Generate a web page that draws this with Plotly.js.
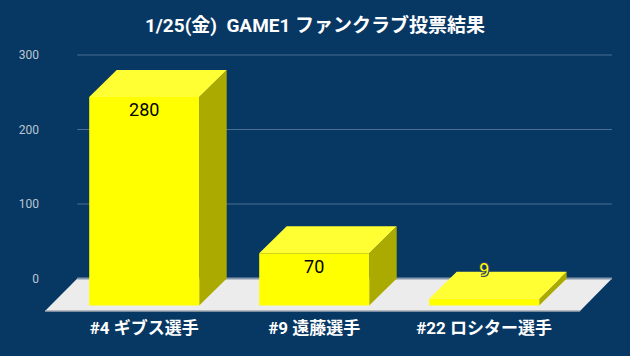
<!DOCTYPE html>
<html>
<head>
<meta charset="utf-8">
<script src="https://cdn.plot.ly/plotly-3.0.1.min.js"></script>
<style>html,body{margin:0;padding:0;background:#073763;}#chart{width:630px;height:356px;}</style>
</head>
<body>
<div id="chart"></div>
<script>
// ---- data ----
var categories = ["#4 ギブス選手", "#9 遠藤選手", "#22 ロシター選手"];
var votes = [280, 70, 9];
var tickValues = [0, 100, 200, 300];
var tickLabels = ["0", "100", "200", "300"];
var chartTitle = "1/25(金)  GAME1 ファンクラブ投票結果";

// ---- layout constants (3D projection) ----
var pxPerUnitY = 0.745;           // pixels per vote
var pxPerCat = 170;               // pixels per category step
var barW = 110 / pxPerCat;        // front face width in category units
var depthX = 27.5 / pxPerCat;     // depth offset, x
var depthY = 27 / pxPerUnitY;     // depth offset, y (vote units)
var floorFrontY = -5.5 / pxPerUnitY;
var floorBack = [-0.3935, 2.7518];
var floorFront = [-0.5835, 2.5636];

var FONT = "Roboto, 'Noto Sans CJK JP', sans-serif";
var traces = [];

// floor
traces.push({
  type: "scatter", mode: "lines", fill: "toself", fillcolor: "#ececec",
  line: {width: 0, color: "#ececec"}, hoverinfo: "skip",
  x: [floorFront[0], floorBack[0], floorBack[1], floorFront[1], floorFront[0]],
  y: [floorFrontY, depthY, depthY, floorFrontY, floorFrontY]
});
// floor front edge
traces.push({
  type: "scatter", mode: "lines", hoverinfo: "skip",
  line: {width: 1.5, color: "#a3aab2"},
  x: [floorFront[0], floorFront[1]], y: [floorFrontY, floorFrontY]
});
// gridlines (back plane)
var gx = [], gy = [];
tickValues.forEach(function (t) {
  if (t === 0) return;
  gx.push(floorBack[0], floorBack[1], null);
  gy.push(t + depthY, t + depthY, null);
});
traces.push({
  type: "scatter", mode: "lines", hoverinfo: "skip",
  line: {width: 1, color: "#4d6e92"}, x: gx, y: gy
});
// floor back edge (zero line)
traces.push({
  type: "scatter", mode: "lines", hoverinfo: "skip",
  line: {width: 2, color: "#8799ad"},
  x: [floorBack[0], floorBack[1]], y: [depthY, depthY]
});

// bars
var fx = [], fy = [], tx = [], ty = [], sx = [], sy = [];
votes.forEach(function (v, i) {
  var l = i - barW / 2, r = i + barW / 2;
  fx.push(l, r, r, l, l, null); fy.push(0, 0, v, v, 0, null);
  tx.push(l, l + depthX, r + depthX, r, l, null);
  ty.push(v, v + depthY, v + depthY, v, v, null);
  sx.push(r, r + depthX, r + depthX, r, r, null);
  sy.push(0, depthY, v + depthY, v, 0, null);
});
[[sx, sy, "#aaaa00"], [tx, ty, "#ffff33"], [fx, fy, "#ffff00"]].forEach(function (f) {
  traces.push({
    type: "scatter", mode: "lines", fill: "toself", fillcolor: f[2],
    line: {width: 0, color: f[2]}, hoverinfo: "skip", x: f[0], y: f[1]
  });
});

// value labels
var inX = [], inY = [], inT = [], outX = [], outY = [], outT = [];
votes.forEach(function (v, i) {
  if (v * pxPerUnitY > 30) { inX.push(i); inY.push(v - 15 / pxPerUnitY); inT.push(String(v)); }
  else { outX.push(i); outY.push(v + depthY); outT.push(String(v)); }
});
traces.push({
  type: "scatter", mode: "text", hoverinfo: "skip", cliponaxis: false,
  x: inX, y: inY, text: inT, textposition: "middle center",
  textfont: {family: FONT, size: 18, color: "#000000"}
});
traces.push({
  type: "scatter", mode: "text", hoverinfo: "skip", cliponaxis: false,
  x: outX, y: outY, text: outT, textposition: "middle center",
  textfont: {family: FONT, size: 18, color: "#ffff00",
    shadow: "-1px -1px 0 #2b3d6b, 1px -1px 0 #2b3d6b, -1px 1px 0 #2b3d6b, 1px 1px 0 #2b3d6b"}
});

var plotH = 276, plotW = 580;
var xmin = -(144.2 - 40) / pxPerCat;
var ymax = (305.5 - 40) / pxPerUnitY;

var layout = {
  width: 630, height: 356,
  margin: {l: 40, r: 10, t: 40, b: 40},
  paper_bgcolor: "#073763", plot_bgcolor: "#073763",
  showlegend: false,
  font: {family: FONT},
  title: {
    text: chartTitle, x: 0.5, xanchor: "center", y: 1 - 25 / 356, yanchor: "middle",
    font: {family: FONT, size: 19, color: "#ffffff", weight: "bold"}
  },
  xaxis: {
    range: [xmin, xmin + plotW / pxPerCat], showgrid: false, zeroline: false,
    showline: false, ticks: "", tickvals: categories.map(function (c, i) { return i; }),
    ticktext: categories, tickfont: {family: FONT, size: 17, color: "#ffffff", weight: "bold"},
    fixedrange: true
  },
  yaxis: {
    range: [ymax - plotH / pxPerUnitY, ymax], showgrid: false, zeroline: false,
    showline: false, ticks: "",
    tickvals: tickValues.map(function (t) { return t + depthY; }), ticktext: tickLabels,
    tickfont: {family: FONT, size: 12, color: "#bcc6d2"}, fixedrange: true
  }
};

Plotly.newPlot("chart", traces, layout, {displayModeBar: false, staticPlot: true});
</script>
</body>
</html>
